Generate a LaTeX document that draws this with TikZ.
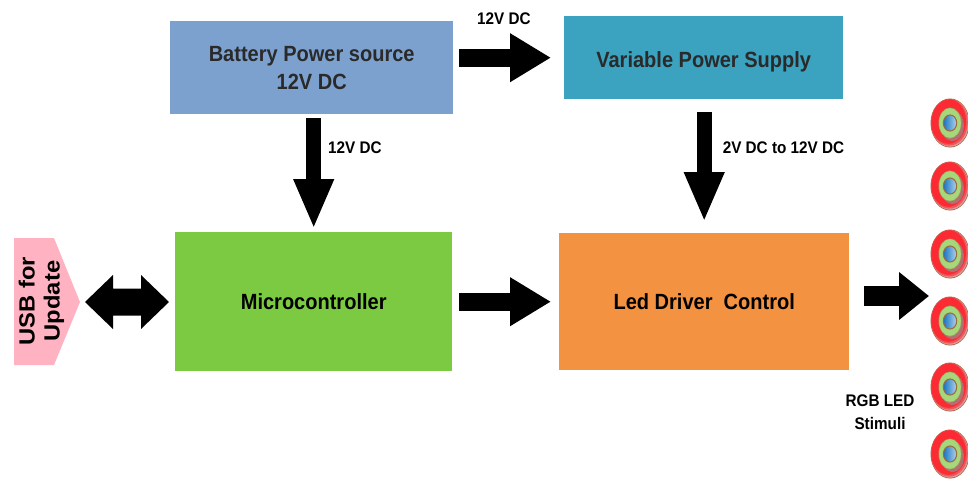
\documentclass[tikz,border=0pt]{standalone}
\usepackage{fontspec}
\setmainfont[FakeStretch=0.91]{Liberation Sans}
\newfontfamily\usbfont[FakeStretch=1.08]{Liberation Sans}
\usetikzlibrary{arrows.meta,calc}
\definecolor{batc}{HTML}{7DA1CF}
\definecolor{varc}{HTML}{3BA2BF}
\definecolor{micc}{HTML}{7CCA42}
\definecolor{drvc}{HTML}{F39240}
\definecolor{usbc}{HTML}{FFB3C2}
\definecolor{ledred}{HTML}{FB2A33}
\definecolor{ledpink}{HTML}{D89A98}
\definecolor{ledgreen}{HTML}{A6D77A}
\definecolor{ledblue}{HTML}{2079C6}
\definecolor{ledlight}{HTML}{A9CDE8}
\definecolor{ledrim}{HTML}{9C6B3C}
\definecolor{darktext}{HTML}{2A2A2A}
\tikzset{
  x=1pt,y=-1pt,
  blockbox/.style={anchor=north west,inner sep=0pt,font=\fontsize{22}{28}\selectfont\bfseries,align=center},
  lab/.style={inner sep=0pt,font=\fontsize{16.8}{22.5}\selectfont\bfseries,align=center},
  blockarrow/.style={draw=black,-{Triangle[length=41pt,width=46pt]}},
  led/.pic={
    \fill[ledrim!80!ledred] (0,0) ellipse [x radius=19.5,y radius=24.5];
    \begin{scope}
      \clip (0,0) ellipse [x radius=18.8,y radius=23.8];
      \fill[ledpink] (0,0) ellipse [x radius=20,y radius=24.5];
      \fill[ledred!60!ledpink] (-.8,-.8) ellipse [x radius=18.6,y radius=23.4];
      \fill[ledred] (-1.6,-1.6) ellipse [x radius=17.6,y radius=22.4];
      \fill[gray!70!ledpink,opacity=.75] (2.4,2.6) ellipse [x radius=11.5,y radius=15.5];
    \end{scope}
    \fill[ledrim!50!ledgreen] (0,0) ellipse [x radius=11.5,y radius=15.5];
    \fill[ledgreen] (0,0) ellipse [x radius=10.8,y radius=14.8];
    \fill[ledrim] (0,0) ellipse [x radius=7.2,y radius=8.6];
    \shade[left color=ledblue,middle color=ledblue,right color=ledlight] (0,0) ellipse [x radius=6,y radius=7.4];
  }
}
\begin{document}
\begin{tikzpicture}
\useasboundingbox (0,0) rectangle (968,479);
% blocks
\node[blockbox,fill=batc,text=darktext,minimum width=283pt,minimum height=93pt] (bat) at (170,21) {Battery Power source\\12V DC};
\node[blockbox,fill=varc,text=darktext,minimum width=279pt,minimum height=83pt,text depth=0pt] (var) at (564,16) {\raisebox{-3pt}{Variable Power Supply}};
\node[blockbox,fill=micc,minimum width=277pt,minimum height=139pt] (mic) at (175,232) {Microcontroller};
\node[blockbox,fill=drvc,minimum width=290pt,minimum height=137pt] (drv) at (559,233) {Led Driver~~Control};
% USB
\fill[usbc] (14,238) -- (54,238) -- (80,302) -- (54,365) -- (14,365) -- cycle;
\node[rotate=90,inner sep=0pt,align=center,font=\usbfont\fontsize{22}{25}\selectfont\bfseries] (usb) at (41.5,301) {USB for\\Update};
\coordinate (usbtip) at (85,302);
\coordinate (micin) at (169,302);
% LEDs
\foreach \n/\y in {1/123,2/186,3/254,4/321,5/387,6/454}{
  \pic at (950,\y) {led};
}
\coordinate (ledin) at (929,296);
\coordinate (drvout) at (864,296);
% arrows
\draw[blockarrow,line width=18pt] ($(bat.east |- var.west)+(6,0)$) -- ($(var.west)+(-13,0)$);
\draw[blockarrow,line width=15pt,-{Triangle[length=50pt,width=37pt]}] ($(mic.north |- bat.south)+(0,4)$) -- ($(mic.north)+(0,-3)$);
\draw[blockarrow,line width=15pt,-{Triangle[length=50pt,width=37pt]}] ($(drv.north |- var.south)+(0,13)$) -- ($(drv.north)+(0,-11)$);
\draw[blockarrow,line width=18pt] ($(mic.east)+(7,0)$) -- ($(drv.west)+(-8,0)$);
\draw[blockarrow,line width=19.5pt,-{Triangle[length=30pt,width=46pt]}] (drvout) -- (ledin);
\draw[draw=none,fill=black] (usbtip) -- ++(28,-27) -- ++(0,13.5) -- ++(28,0) -- ++(0,-13.5) -- (micin) -- ++(-28,27) -- ++(0,-13.5) -- ++(-28,0) -- ++(0,13.5) -- cycle;
% labels
\node[lab] (l1) at (504,19) {12V DC};
\node[lab] (l2) at (355,148) {12V DC};
\node[lab] (l3) at (783.5,148) {2V DC to 12V DC};
\node[lab] (l4) at (880,412) {RGB LED\\Stimuli};
\end{tikzpicture}
\end{document}
